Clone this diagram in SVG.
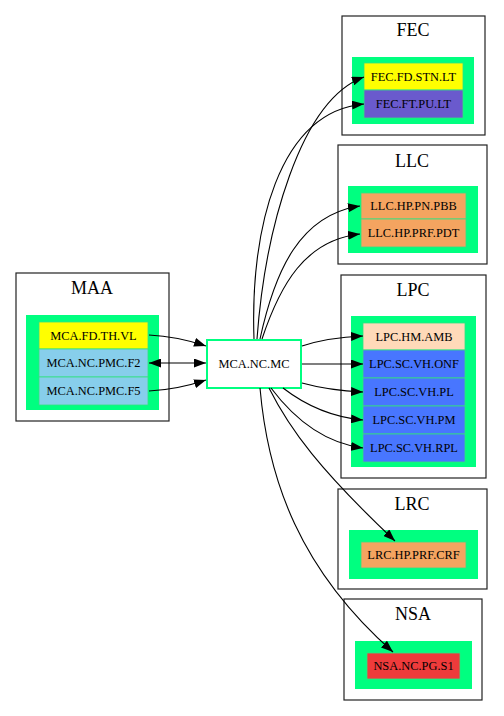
<svg xmlns="http://www.w3.org/2000/svg" width="504" height="716" viewBox="0 0 504 716">
<style>
.cl{fill:#fff;stroke:#222;stroke-width:1.2}
.gr{fill:#00ff80;stroke:none}
.nd{stroke:#33e080;stroke-width:0.8}
.t{font-family:"Liberation Serif","Times New Roman",serif;font-size:12.4px;text-anchor:middle;fill:#000}
.ti{font-family:"Liberation Serif","Times New Roman",serif;font-size:18px;text-anchor:middle;fill:#000}
.e{fill:none;stroke:#000;stroke-width:1.1}
</style>
<defs>
<marker id="ah" viewBox="0 0 12 9" refX="12" refY="4.5" markerUnits="userSpaceOnUse" markerWidth="12" markerHeight="9" orient="auto-start-reverse">
<path d="M0,0 L12,4.5 L0,9 z" fill="#000"/>
</marker>
</defs>
<rect width="504" height="716" fill="#fff"/>

<g id="cluster_MAA">
<rect class="cl" x="16" y="273" width="153" height="148"/>
<text class="ti" x="92" y="294">MAA</text>
<rect class="gr" x="26" y="315" width="133" height="95"/>
</g>
<g id="cluster_FEC">
<rect class="cl" x="342" y="16" width="143" height="119"/>
<text class="ti" x="413" y="36">FEC</text>
<rect class="gr" x="352" y="57" width="122" height="67"/>
</g>
<g id="cluster_LLC">
<rect class="cl" x="338" y="145" width="149" height="119"/>
<text class="ti" x="412" y="167">LLC</text>
<rect class="gr" x="348" y="186" width="130" height="67"/>
</g>
<g id="cluster_LPC">
<rect class="cl" x="341" y="275" width="145" height="203"/>
<text class="ti" x="413" y="296">LPC</text>
<rect class="gr" x="351" y="316" width="125" height="151"/>
</g>
<g id="cluster_LRC">
<rect class="cl" x="338" y="489" width="149" height="100"/>
<text class="ti" x="412" y="510">LRC</text>
<rect class="gr" x="349" y="530" width="129" height="49"/>
</g>
<g id="cluster_NSA">
<rect class="cl" x="344" y="599" width="138" height="101"/>
<text class="ti" x="413" y="620">NSA</text>
<rect class="gr" x="355" y="641" width="117" height="48"/>
</g>

<g id="MCA.FD.TH.VL"><rect class="nd" x="39" y="322" width="109" height="27" fill="#ffff00"/><text class="t" x="93.5" y="339.5">MCA.FD.TH.VL</text></g>
<g id="MCA.NC.PMC.F2"><rect class="nd" x="39" y="349" width="109" height="28" fill="#87ceeb"/><text class="t" x="93.5" y="367">MCA.NC.PMC.F2</text></g>
<g id="MCA.NC.PMC.F5"><rect class="nd" x="39" y="377" width="109" height="28" fill="#87ceeb"/><text class="t" x="93.5" y="395">MCA.NC.PMC.F5</text></g>

<g id="MCA.NC.MC"><rect x="207" y="340" width="94" height="48" fill="#fff" stroke="#00ff80" stroke-width="2"/><text class="t" x="254" y="368">MCA.NC.MC</text></g>

<g id="FEC.FD.STN.LT"><rect class="nd" x="364" y="63" width="99" height="27" fill="#ffff00"/><text class="t" x="413.5" y="80.5">FEC.FD.STN.LT</text></g>
<g id="FEC.FT.PU.LT"><rect class="nd" x="364" y="90" width="99" height="28" fill="#6a5acd"/><text class="t" x="413.5" y="108">FEC.FT.PU.LT</text></g>

<g id="LLC.HP.PN.PBB"><rect class="nd" x="361" y="193" width="105" height="26" fill="#f4a460"/><text class="t" x="413.5" y="210">LLC.HP.PN.PBB</text></g>
<g id="LLC.HP.PRF.PDT"><rect class="nd" x="361" y="219" width="105" height="28" fill="#f4a460"/><text class="t" x="413.5" y="237">LLC.HP.PRF.PDT</text></g>

<g id="LPC.HM.AMB"><rect class="nd" x="363" y="323" width="102" height="27" fill="#ffdab9"/><text class="t" x="414" y="340.5">LPC.HM.AMB</text></g>
<g id="LPC.SC.VH.ONF"><rect class="nd" x="363" y="350" width="102" height="28" fill="#4876ff"/><text class="t" x="414" y="368">LPC.SC.VH.ONF</text></g>
<g id="LPC.SC.VH.PL"><rect class="nd" x="363" y="378" width="102" height="28" fill="#4876ff"/><text class="t" x="414" y="396">LPC.SC.VH.PL</text></g>
<g id="LPC.SC.VH.PM"><rect class="nd" x="363" y="406" width="102" height="28" fill="#4876ff"/><text class="t" x="414" y="424">LPC.SC.VH.PM</text></g>
<g id="LPC.SC.VH.RPL"><rect class="nd" x="363" y="434" width="102" height="28" fill="#4876ff"/><text class="t" x="414" y="452">LPC.SC.VH.RPL</text></g>

<g id="LRC.HP.PRF.CRF"><rect class="nd" x="361" y="542" width="105" height="26" fill="#f4a460"/><text class="t" x="413.5" y="559">LRC.HP.PRF.CRF</text></g>

<g id="NSA.NC.PG.S1"><rect class="nd" x="367" y="653" width="93" height="26" fill="#ee3b3b"/><text class="t" x="413.5" y="670">NSA.NC.PG.S1</text></g>

<g id="edges">
<path class="e" d="M149,335 C170,336 188,340 206,346" marker-end="url(#ah)"/>
<path class="e" d="M149,363 L206,363" marker-start="url(#ah)" marker-end="url(#ah)"/>
<path class="e" d="M149,391 C170,390 188,386 206,380" marker-end="url(#ah)"/>
<path class="e" d="M257,339 C265,230 300,100 364,77" marker-end="url(#ah)"/>
<path class="e" d="M254,339 C250,230 278,112 364,104" marker-end="url(#ah)"/>
<path class="e" d="M260,339 C275,270 300,215 360,206" marker-end="url(#ah)"/>
<path class="e" d="M262,339 C280,285 305,240 360,234" marker-end="url(#ah)"/>
<path class="e" d="M302,346 C320,340 340,337 363,336" marker-end="url(#ah)"/>
<path class="e" d="M302,364 L363,364" marker-end="url(#ah)"/>
<path class="e" d="M302,383 C320,388 340,391 363,392" marker-end="url(#ah)"/>
<path class="e" d="M283,388 C305,405 330,417 363,420" marker-end="url(#ah)"/>
<path class="e" d="M271,388 C295,420 325,443 363,448" marker-end="url(#ah)"/>
<path class="e" d="M269,388 C290,430 320,470 395,541" marker-end="url(#ah)"/>
<path class="e" d="M260,388 C268,480 300,570 393,652" marker-end="url(#ah)"/>
</g>
</svg>
